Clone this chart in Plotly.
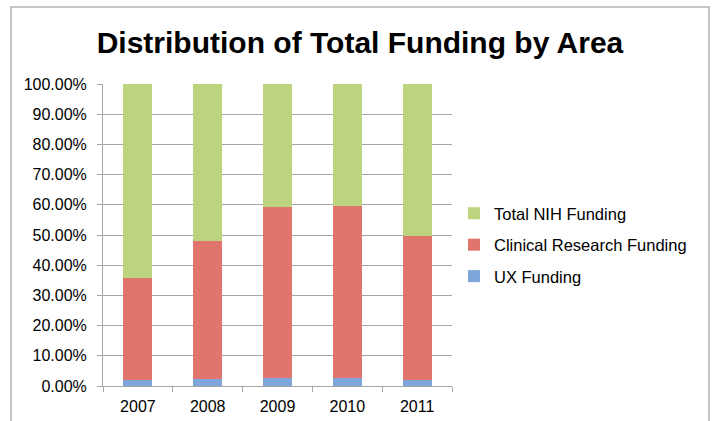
import plotly.graph_objects as go

years = ["2007", "2008", "2009", "2010", "2011"]
ux_pct = [0.020, 0.023, 0.026, 0.026, 0.020]
clinical_pct = [0.337, 0.457, 0.567, 0.571, 0.478]
nih_pct = [0.643, 0.520, 0.407, 0.403, 0.502]

series_names = ["UX Funding", "Clinical Research Funding", "Total NIH Funding"]
series_colors = ["#7ea6da", "#e2746e", "#bdd47e"]
legend_ranks = [3, 2, 1]

W, H = 712, 421
L, R, T, B = 103, 260, 84, 35

fig = go.Figure()
for name, vals, col, rk in zip(series_names, [ux_pct, clinical_pct, nih_pct], series_colors, legend_ranks):
    fig.add_trace(go.Bar(
        x=years, y=vals, name=name, legendgroup=name, legendrank=rk,
        marker=dict(color=col, line=dict(width=0)),
    ))

pw = W - L - R
ph = H - T - B
fig.update_layout(
    width=W, height=H,
    barmode="stack",
    bargap=0.586,
    plot_bgcolor="white", paper_bgcolor="white",
    margin=dict(l=L, r=R, t=T, b=B, autoexpand=False),
    font=dict(family="Liberation Sans, Arial, sans-serif", size=16, color="black"),
    title=dict(text="<b>Distribution of Total Funding by Area</b>",
               x=(360 - L) / pw, xref="paper", xanchor="center",
               y=1 - 42 / H, yanchor="middle",
               font=dict(size=30, color="black")),
    showlegend=True,
    legend=dict(x=(454 - L) / pw, xanchor="left", y=(H - B - 245) / ph, yanchor="middle",
                traceorder="grouped", tracegroupgap=7,
                font=dict(size=16.5), bgcolor="rgba(0,0,0,0)"),
    xaxis=dict(showgrid=False, showline=True, linecolor="#a6a6a6", linewidth=1,
               ticks="outside", tickson="boundaries", ticklen=5, tickcolor="#a6a6a6",
               ticklabelstandoff=6, tickfont=dict(size=16), automargin=False),
    yaxis=dict(range=[0, 1], dtick=0.1, tickformat=".2%", showgrid=True,
               gridcolor="#a6a6a6", gridwidth=1, showline=True, linecolor="#a6a6a6",
               ticks="outside", ticklen=5, tickcolor="#a6a6a6", zeroline=False,
               ticklabelstandoff=7, tickfont=dict(size=16), automargin=False),
    shapes=[dict(type="path", xref="paper", yref="paper",
                 path="M %f %f L %f %f L %f %f L %f %f" % (
                     (11 - L) / pw, -0.2,
                     (11 - L) / pw, (H - B - 7) / ph,
                     (709 - L) / pw, (H - B - 7) / ph,
                     (709 - L) / pw, -0.2),
                 line=dict(color="#b3b3b3", width=1.5))],
)

fig.write_html("out.html")
